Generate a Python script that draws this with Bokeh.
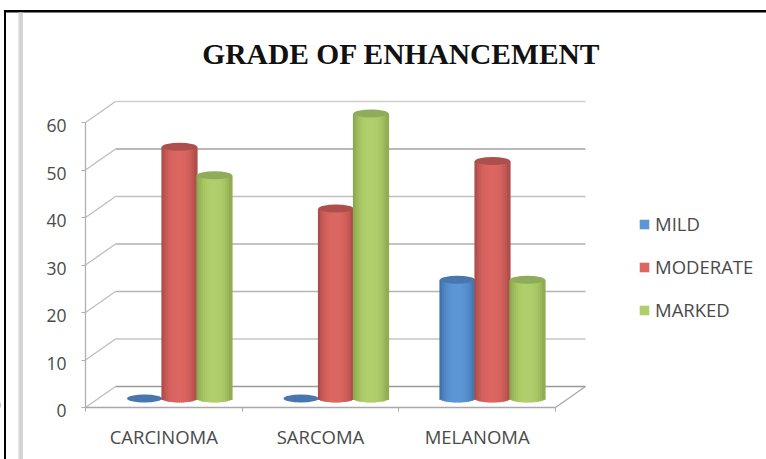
from bokeh.embed import file_html
from bokeh.models import FixedTicker, Label, Legend, LegendItem, LinearAxis, Range1d
from bokeh.plotting import figure
from bokeh.resources import INLINE
import numpy as np

# Chart values
title_text = "GRADE OF ENHANCEMENT"
categories = ["CARCINOMA", "SARCOMA", "MELANOMA"]
series_names = ["MILD", "MODERATE", "MARKED"]
mild = [0, 0, 25]
moderate = [53, 40, 50]
marked = [47, 60, 25]
y_ticks = [0, 10, 20, 30, 40, 50, 60]

W, H = 766, 459
UNIT = 4.75       # pixels per value unit
ZERO_PX = 407     # screen row of value 0 on the front plane
FONT = "Open Sans"


def row(px):
    """Screen row expressed in value units."""
    return (ZERO_PX - px) / UNIT


p = figure(width=W, height=H, output_backend="svg", toolbar_location=None,
           x_range=Range1d(0, W), y_range=Range1d(row(H), row(0)),
           x_axis_location=None, y_axis_location=None, min_border=0,
           background_fill_color="white", border_fill_color="white",
           outline_line_color=None)
p.grid.visible = False

# Tick numbers sit slightly below their tick marks, so they get their own shifted range
LABEL_DROP = 3 / UNIT
p.extra_y_ranges["tick_labels"] = Range1d(row(H) + LABEL_DROP, row(0) + LABEL_DROP)

# Page frame
p.quad(left=3.5, right=5.5, bottom=row(H), top=row(10), color="#000000", line_color=None)
p.quad(left=3.5, right=W, bottom=row(12), top=row(9.5), color="#000000", line_color=None)
p.quad(left=18, right=22.5, bottom=row(H), top=row(12), color="#d4d4d4", line_color=None)

# Wall and floor of the 3D box
DX, DY = 30, 21 / UNIT
FRONT_L, FRONT_R = 85, 555
grey_by_level = ["#9a9a9a", "#c4c4c4", "#b4b4b4", "#b0b0b0", "#c0c0c0", "#a2a2a2", "#cfcfcf"]
levels = np.array(y_ticks, dtype=float)
p.segment(x0=FRONT_L + DX, x1=FRONT_R + DX, y0=levels + DY, y1=levels + DY,
          line_color=grey_by_level, line_width=1.3)
p.segment(x0=FRONT_L, x1=FRONT_L + DX, y0=levels, y1=levels + DY,
          line_color="#bdbdbd", line_width=1.3)
p.segment(x0=[FRONT_R], x1=[FRONT_R + DX], y0=[0], y1=[DY], line_color="#a8a8a8", line_width=1.3)

# Cylinders, shaded with narrow overlapping vertical slices
BAR_W = 35
GROUP_STEP = 156.5
CENTER0 = 179
BASE = row(398)
CAP_H = 8
N = 16
palette = {
    "MILD": ("#3b6ca3", "#5d96d6", "#3f70a8", "#4877ad"),
    "MODERATE": ("#a64947", "#dc6661", "#a84a48", "#ad4f4c"),
    "MARKED": ("#86a34a", "#b0cf6c", "#8aa84c", "#8fac5a"),
}


def blend(a, b, t):
    ca = np.array([int(a[i:i + 2], 16) for i in (1, 3, 5)])
    cb = np.array([int(b[i:i + 2], 16) for i in (1, 3, 5)])
    c = ca + (cb - ca) * t
    return "#%02x%02x%02x" % tuple(int(round(v)) for v in c)


swatches = []
for s, (name, vals) in enumerate(zip(series_names, [mild, moderate, marked])):
    edge_l, mid, edge_r, cap = palette[name]
    xs = [CENTER0 + g * GROUP_STEP + (s - 1) * BAR_W for g in range(len(categories))]
    for cx, v in zip(xs, vals):
        if v > 0:
            t = (np.arange(N) + 0.5) / N * 2 - 1
            shade = np.clip(np.abs(t) ** 2.6, 0, 1)
            colors = [blend(mid, edge_l if u < 0 else edge_r, w) for u, w in zip(t, shade)]
            sag = (CAP_H / 2 / UNIT) * np.sqrt(1 - t ** 2)
            p.vbar(x=cx + t * BAR_W / 2, width=BAR_W / N + 1.2,
                   bottom=BASE - sag, top=BASE + v, color=colors, line_color=None)
    tops = [BASE + v for v in vals]
    p.ellipse(x=xs, y=tops, width=BAR_W, height=CAP_H, height_units="screen",
              color=cap, line_color=None)
    swatches.append(p.vbar(x=[-50], width=1, top=[1], bottom=[0], color=mid, line_color=None))

# Axes: one for the line and tick marks, one for the numbers
yaxis = LinearAxis(ticker=FixedTicker(ticks=y_ticks), fixed_location=FRONT_L, bounds=(0, 60),
                   axis_line_color="#b0b0b0", axis_line_width=1.3,
                   major_tick_line_color="#b0b0b0", major_tick_out=4, major_tick_in=0,
                   minor_tick_line_color=None,
                   major_label_overrides={v: "" for v in y_ticks})
p.add_layout(yaxis, "left")
ylabels = LinearAxis(y_range_name="tick_labels", ticker=FixedTicker(ticks=y_ticks),
                     fixed_location=FRONT_L, bounds=(0, 60),
                     axis_line_color=None, major_tick_line_color=None,
                     minor_tick_line_color=None, major_tick_out=4, major_label_standoff=15,
                     major_label_text_font=FONT, major_label_text_font_size="17.5px",
                     major_label_text_color="#4a4a4a")
p.add_layout(ylabels, "left")

step = (FRONT_R - FRONT_L) / len(categories)
centers = [FRONT_L + step * (i + 0.5) for i in range(len(categories))]
edges = [FRONT_L + step * i for i in range(len(categories) + 1)]
xaxis = LinearAxis(ticker=FixedTicker(ticks=centers, minor_ticks=edges), fixed_location=0,
                   bounds=(FRONT_L, FRONT_R),
                   major_label_overrides=dict(zip(centers, categories)),
                   axis_line_color="#a8a8a8", axis_line_width=1.3,
                   major_tick_line_color=None,
                   minor_tick_line_color="#a8a8a8", minor_tick_out=4, minor_tick_in=0,
                   major_label_standoff=10, major_label_text_font=FONT,
                   major_label_text_font_size="18.5px", major_label_text_color="#4a4a4a")
p.add_layout(xaxis, "below")

# Title
p.add_layout(Label(x=401, y=row(53), text=title_text, text_align="center", text_baseline="middle",
                   text_font="Liberation Serif", text_font_style="bold",
                   text_font_size="29.5px", text_color="#111111"))

# Legend
legend = Legend(items=[LegendItem(label=n, renderers=[r]) for n, r in zip(series_names, swatches)],
                location=(638, H - 322), orientation="vertical", spacing=18, padding=0, margin=0,
                glyph_width=12, glyph_height=12, label_height=12, label_standoff=5,
                background_fill_alpha=0, border_line_color=None,
                label_text_font=FONT, label_text_font_size="18.5px", label_text_color="#4a4a4a")
p.add_layout(legend)

open("out.html", "w").write(file_html(p, INLINE))
